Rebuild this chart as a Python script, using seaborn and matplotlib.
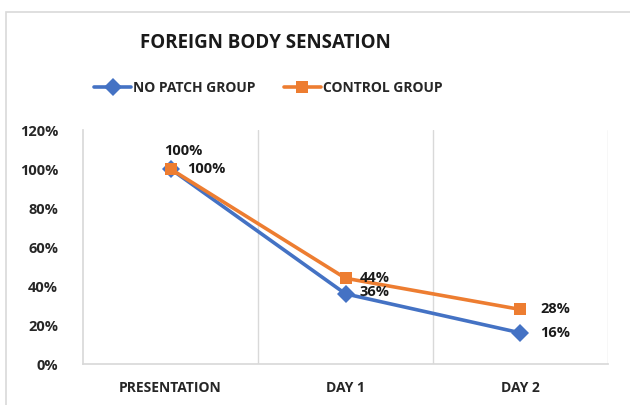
import matplotlib
matplotlib.use("Agg")
import matplotlib.pyplot as plt
import seaborn as sns
import pandas as pd
from matplotlib.patches import Rectangle
from matplotlib.ticker import PercentFormatter

# données
stages = ["PRESENTATION", "DAY 1", "DAY 2"]
no_patch = [100, 36, 16]
control = [100, 44, 28]
groups = ["NO PATCH GROUP", "CONTROL GROUP"]

BLUE = "#4472C4"
ORANGE = "#ED7D31"
GRID = "#D9D9D9"

df = pd.DataFrame({
    "stage": stages * 2,
    "value": no_patch + control,
    "group": [groups[0]] * 3 + [groups[1]] * 3,
})

sns.set_theme(style="white")
plt.rcParams["font.family"] = ["Open Sans", "DejaVu Sans"]

fig = plt.figure(figsize=(6.3, 4.05), dpi=100)
fig.patch.set_facecolor("white")
ax = fig.add_axes([0.132, 0.101, 0.833, 0.578])

sns.lineplot(
    data=df, x="stage", y="value", hue="group", style="group",
    palette={groups[0]: BLUE, groups[1]: ORANGE},
    markers={groups[0]: "D", groups[1]: "s"}, dashes=False,
    markersize=9, linewidth=2.6, markeredgewidth=0, sort=False, ax=ax,
)

ax.set_xlim(-0.5, 2.5)
ax.set_ylim(0, 120)
ax.set_yticks(range(0, 121, 20))
ax.yaxis.set_major_formatter(PercentFormatter(decimals=0))
ax.set_xlabel("")
ax.set_ylabel("")

# lignes de séparation verticales entre catégories
for xv in (0.5, 1.5, 2.5):
    ax.axvline(xv, color=GRID, lw=1, zorder=0)
for side in ("top", "right"):
    ax.spines[side].set_visible(False)
ax.spines["left"].set_color(GRID)
ax.spines["bottom"].set_color(GRID)
ax.tick_params(length=0, labelsize=10.5)
ax.tick_params(axis="y", pad=18)
for lab in ax.get_yticklabels():
    lab.set_fontweight("bold")
for lab in ax.get_xticklabels():
    lab.set_fontweight("bold")
    lab.set_fontsize(10)
ax.tick_params(axis="x", pad=12)

# étiquettes de données
lbl = dict(fontsize=10.5, fontweight="bold", color="#1a1a1a", va="center")
ax.annotate(f"{no_patch[0]}%", (0, no_patch[0]), xytext=(12, 0), textcoords="offset points", ha="left", **lbl)
ax.annotate(f"{control[0]}%", (0, control[0]), xytext=(-5, 13), textcoords="offset points", ha="left", **lbl)
ax.annotate(f"{control[1]}%", (1, control[1]), xytext=(10, 0), textcoords="offset points", ha="left", **lbl)
ax.annotate(f"{no_patch[1]}%", (1, no_patch[1]), xytext=(10, 1), textcoords="offset points", ha="left", **lbl)
ax.annotate(f"{control[2]}%", (2, control[2]), xytext=(14, 0), textcoords="offset points", ha="left", **lbl)
ax.annotate(f"{no_patch[2]}%", (2, no_patch[2]), xytext=(14, 0), textcoords="offset points", ha="left", **lbl)

# légende
handles, labels = ax.get_legend_handles_labels()
ax.get_legend().remove()
fig.legend(handles, labels, loc="center", bbox_to_anchor=(0.426, 0.783), ncol=2,
           frameon=False, handlelength=2.7, columnspacing=2.0, handletextpad=0.15,
           prop={"weight": "bold", "size": 10})

fig.text(0.422, 0.893, "FOREIGN BODY SENSATION", ha="center", va="center",
         fontsize=13.5, fontweight="bold", color="#1a1a1a")

# cadre du graphique
fig.patches.append(Rectangle((6 / 630, -0.01), 1.0, 1 - 12 / 405 + 0.01, transform=fig.transFigure,
                             fill=False, edgecolor=GRID, lw=1.2, zorder=-1))

fig.savefig("out.png", dpi=100)
